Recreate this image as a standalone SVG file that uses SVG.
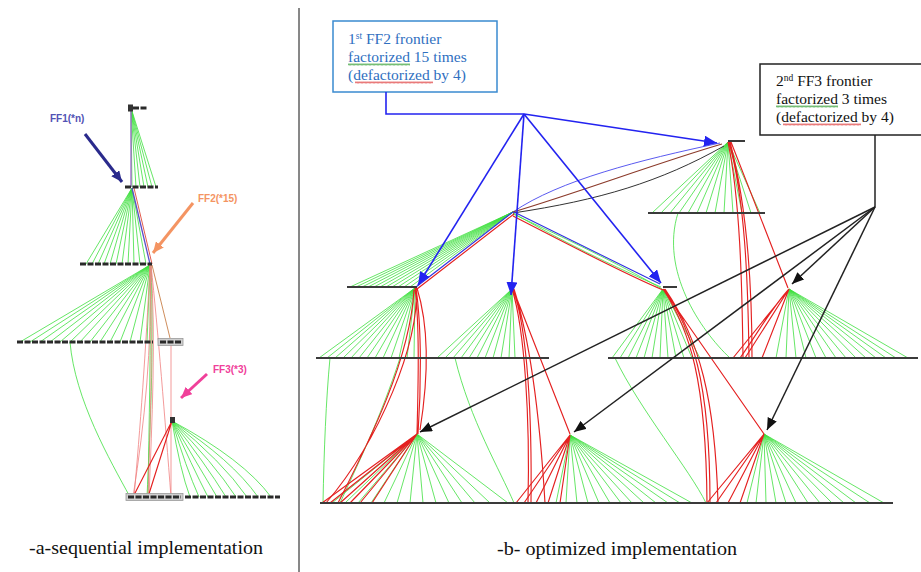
<svg xmlns="http://www.w3.org/2000/svg" width="921" height="572" viewBox="0 0 921 572">
  <style>
    .g { fill: none; stroke: #3fe03f; stroke-width: 0.8; }
    .r { fill: none; stroke: #e42020; stroke-width: 1.15; }
    .rp { fill: none; stroke: #f08080; stroke-width: 0.8; }
    .bar { fill: none; stroke: #3a3a3a; stroke-width: 2; }
    .chain { fill: none; stroke: #2a2a2a; stroke-width: 3; stroke-dasharray: 6 1.5; }
    .gbox { fill: #cfcfcf; stroke: #9a9a9a; stroke-width: 0.8; }
    .blue { fill: none; stroke: #2323f0; stroke-width: 1.6; }
    .blk { fill: none; stroke: #222; stroke-width: 1.5; }
    .lbl { font-family: "Liberation Sans", Arial, sans-serif; font-weight: bold; font-size: 10px; }
    .note { font-family: "Liberation Serif", "Times New Roman", serif; font-size: 15.5px; }
  </style>
  <defs>
    <marker id="ahBlue" markerUnits="userSpaceOnUse" markerWidth="13" markerHeight="11" refX="13" refY="5.5" orient="auto">
      <path d="M0,0 L13,5.5 L0,11 z" fill="#2323f0"/>
    </marker>
    <marker id="ahBlack" markerUnits="userSpaceOnUse" markerWidth="12" markerHeight="10" refX="12" refY="5" orient="auto">
      <path d="M0,0 L12,5 L0,10 z" fill="#111"/>
    </marker>
    <marker id="ahNavy" markerUnits="userSpaceOnUse" markerWidth="11" markerHeight="10" refX="11" refY="5" orient="auto">
      <path d="M0,0 L11,5 L0,10 z" fill="#2a2a8c"/>
    </marker>
    <marker id="ahOrange" markerUnits="userSpaceOnUse" markerWidth="11" markerHeight="10" refX="11" refY="5" orient="auto">
      <path d="M0,0 L11,5 L0,10 z" fill="#f49462"/>
    </marker>
    <marker id="ahPink" markerUnits="userSpaceOnUse" markerWidth="11" markerHeight="10" refX="11" refY="5" orient="auto">
      <path d="M0,0 L11,5 L0,10 z" fill="#f0409a"/>
    </marker>
    <pattern id="waveGreen" width="4" height="3" patternUnits="userSpaceOnUse">
      <polyline points="0,2.5 1,0.5 2,2.5 3,0.5 4,2.5" fill="none" stroke="#3aa03a" stroke-width="0.7"/>
    </pattern>
    <pattern id="waveRed" width="4" height="3" patternUnits="userSpaceOnUse">
      <polyline points="0,2.5 1,0.5 2,2.5 3,0.5 4,2.5" fill="none" stroke="#e04040" stroke-width="0.7"/>
    </pattern>
  </defs>

  <rect width="921" height="572" fill="#fff"/>

  <!-- panel separator -->
  <line x1="299" y1="8" x2="299" y2="572" stroke="#111" stroke-width="1"/>

  <!-- ========== (a) sequential implementation ========== -->
  <g id="seq-tree">
    <!-- green fans -->
    <path class="g" d="M131 108L132 187M131 108L136 187M131 108L140 187M131 108L144 187M131 108L148 187M131 108L152 187M131 108L156 187"/>
    <path class="g" d="M132 188L86 264M132 188L92 264M132 188L98 264M132 188L104 264M132 188L110 264M132 188L116 264M132 188L122 264M132 188L128 264M132 188L134 264M132 188L140 264M132 188L146 264"/>
    <path class="g" d="M150 265L20 342M150 265L30 342M150 265L40 342M150 265L50 342M150 265L60 342M150 265L70 342M150 265L80 342M150 265L90 342M150 265L100 342M150 265L110 342M150 265L120 342M150 265L130 342M150 265L140 342M150 265L147 342"/>
    <path class="g" d="M172 421Q180 470 190 497M172 421Q186 468 199 497M172 421Q192 466 208 497M172 421Q198 465 217 497M172 421Q205 463 226 497M172 421Q213 462 236 497M172 421Q222 461 247 497M172 421Q232 460 258 497M172 421Q244 460 271 497"/>
    <path class="g" d="M70 342C75 400 110 460 130 497M150 265C151 350 149 420 148 497M151 265C154 360 150 430 147 497"/>
    <!-- frontier path -->
    <path d="M131 108L131 187" stroke="#9a62c8" stroke-width="1.3" fill="none"/>
    <path d="M132 188L150 264" stroke="#5a4ec8" stroke-width="1.3" fill="none"/>
    <path d="M134 188L152 264" stroke="#e04a3a" stroke-width="0.9" fill="none"/>
    <!-- red edges -->
    <path class="rp" d="M150 265C152 350 145 420 133 497M150 265C153 350 150 430 148 497M151 265C156 340 152 420 149 497"/>
    <path class="rp" d="M151 265C158 330 165 420 171 497M150 265C146 350 140 430 134 497"/>
    <path d="M152 265L170 338" stroke="#c8804a" stroke-width="0.9" fill="none"/>
    <path class="rp" d="M171 342L171 497"/>
    <path class="r" d="M172 421L133 497M172 421L148 497" stroke-width="0.9"/>
    <!-- levels -->
    <rect x="128" y="104.5" width="5" height="7" fill="#333"/>
    <path class="chain" d="M133 108H148"/>
    <path class="chain" d="M125 187H158"/>
    <path class="chain" d="M80 264H152"/>
    <path class="chain" d="M17 342H153"/>
    <rect class="gbox" x="158" y="338.5" width="25" height="7"/>
    <path class="chain" d="M160 342H181"/>
    <rect x="170" y="417" width="5" height="6" fill="#333"/>
    <rect class="gbox" x="126" y="493.5" width="57" height="7"/>
    <path class="chain" d="M128 497H181"/>
    <path class="chain" d="M185 497H280"/>
  </g>

  <g id="label-ff1">
    <text class="lbl" x="50" y="122" fill="#5252b4">FF1(*n)</text>
    <line x1="85" y1="134" x2="122" y2="182" stroke="#2a2a8c" stroke-width="3" marker-end="url(#ahNavy)"/>
  </g>
  <g id="label-ff2">
    <text class="lbl" x="198" y="202" fill="#f49462">FF2(*15)</text>
    <line x1="193" y1="203" x2="153" y2="253" stroke="#f49462" stroke-width="3" marker-end="url(#ahOrange)"/>
  </g>
  <g id="label-ff3">
    <text class="lbl" x="213" y="373" fill="#f0409a">FF3(*3)</text>
    <line x1="207" y1="374" x2="181" y2="398" stroke="#f0409a" stroke-width="3" marker-end="url(#ahPink)"/>
  </g>

  <!-- ========== (b) optimized implementation ========== -->
  <g id="opt-tree">
    <!-- green fans -->
    <path class="g" d="M728 142L652 213M728 142L661 213M728 142L670 213M728 142L679 213M728 142L688 213M728 142L697 213M728 142L706 213M728 142L715 213M728 142L724 213M728 142L733 213M728 142L742 213M728 142L751 213M728 142L760 213"/>
    <path class="g" d="M513 212L350 287M513 212L356 287M513 212L362 287M513 212L368 287M513 212L374 287M513 212L380 287M513 212L386 287M513 212L392 287M513 212L398 287M513 212L404 287M513 212L410 287"/>
    <path class="g" d="M415 288L319 358M415 288L327 358M415 288L335 358M415 288L343 358M415 288L351 358M415 288L359 358M415 288L367 358M415 288L375 358M415 288L383 358M415 288L391 358M415 288L399 358M415 288L407 358M415 288L414 358"/>
    <path class="g" d="M512 289L437 358M512 289L445 358M512 289L453 358M512 289L461 358M512 289L469 358M512 289L477 358M512 289L485 358M512 289L493 358M512 289L501 358M512 289L509 358M512 289L515 358"/>
    <path class="g" d="M663 289L612 358M663 289L620 358M663 289L628 358M663 289L636 358M663 289L644 358M663 289L652 358M663 289L660 358M663 289L668 358M663 289L676 358M663 289L684 358M663 289L692 358M663 289L700 358"/>
    <path class="g" d="M789 289L776 358M789 289L786 358M789 289L796 358M789 289L806 358M789 289L816 358M789 289L826 358M789 289L836 358M789 289L846 358M789 289L856 358M789 289L866 358M789 289L876 358M789 289L886 358M789 289L896 358M789 289L908 358"/>
    <path class="g" d="M417 434L332 503M417 434L345 503M417 434L358 503M417 434L371 503M417 434L384 503M417 434L397 503M417 434L410 503M417 434L423 503M417 434L436 503M417 434L449 503M417 434L462 503M417 434L475 503M417 434L490 503M417 434L508 503"/>
    <path class="g" d="M570 435L556 503M570 435L566 503M570 435L577 503M570 435L588 503M570 435L599 503M570 435L610 503M570 435L621 503M570 435L632 503M570 435L644 503M570 435L656 503M570 435L668 503M570 435L680 503M570 435L692 503"/>
    <path class="g" d="M764 434L747 503M764 434L756 503M764 434L766 503M764 434L776 503M764 434L786 503M764 434L796 503M764 434L808 503M764 434L820 503M764 434L832 503M764 434L844 503M764 434L856 503M764 434L870 503M764 434L884 503"/>
    <!-- long green edges -->
    <path class="g" d="M678 213C660 270 700 330 730 358M330 358C326 400 324 450 323 503M455 358C470 420 500 470 514 503M615 358C640 410 690 470 706 503M400 358C380 420 355 470 340 503M513 214C580 245 630 270 662 289M513 213C560 240 610 265 661 287"/>

    <!-- edges between the upper frontiers -->
    <path d="M513 212C560 180 640 160 720 143" stroke="#5a5af0" stroke-width="1" fill="none"/>
    <path d="M513 212C580 192 660 162 722 144" stroke="#8b3a2a" stroke-width="1.2" fill="none"/>
    <path d="M513 213C600 200 660 182 724 146" stroke="#333" stroke-width="1" fill="none"/>
    <path d="M513 212L416 287" stroke="#3030e0" stroke-width="1.2" fill="none"/>
    <path class="r" d="M514 214L417 289M513 216C560 240 620 272 663 290"/>
    <path d="M514 212L660 284" stroke="#3030e0" stroke-width="1.1" fill="none"/>

    <!-- red edges -->
    <path class="r" d="M728 142C740 200 742 280 743 358M729 142C745 200 748 280 749 358M730 142C748 210 752 290 752 358M731 142L788 288"/>
    <path class="r" d="M789 289L733 358M789 289L745 358M789 289L762 358M789 289C770 310 760 330 740 358"/>
    <path class="r" d="M415 288C420 330 418 390 417 434M416 288C422 330 421 390 418 434M417 288C430 330 428 380 420 430M416 290C420 340 380 440 326 503M414 290C410 360 370 440 338 503"/>
    <path class="r" d="M417 434L322 503M417 434L330 503M417 434L340 503M417 434L350 503M417 434L360 503M417 434L372 503"/>
    <path class="r" d="M512 289C525 330 530 420 528 503M513 289C528 330 532 420 531 503M514 289C530 340 540 420 545 503M513 289L570 434"/>
    <path class="r" d="M570 435L516 503M570 435L524 503M570 435L536 503M570 435L548 503M570 435L560 503"/>
    <path class="r" d="M663 289C690 330 706 380 707 503M664 289C692 330 710 380 710 503M665 289C700 340 715 400 718 503M663 289L764 434"/>
    <path class="r" d="M764 434L707 503M764 434L716 503M764 434L728 503M764 434L740 503"/>

    <!-- frontier levels -->
    <path class="bar" d="M728 141H745M648 213H765M347 287H417M663 287H677M316 358H549M608 358H918M320 503H893"/>
  </g>

  <g id="note-ff2">
    <rect x="333" y="21" width="164" height="71" fill="#fff" stroke="#3a8ad0" stroke-width="1.5"/>
    <text class="note" fill="#2f6fbf">
      <tspan x="348" y="44">1<tspan font-size="9.5" dy="-5">st</tspan><tspan dy="5"> FF2 frontier</tspan></tspan>
      <tspan x="348" y="62">factorized 15 times</tspan>
      <tspan x="348" y="80">(defactorized by 4)</tspan>
    </text>
    <rect x="348" y="63" width="62" height="3" fill="url(#waveGreen)"/>
    <rect x="355" y="81" width="78" height="3" fill="url(#waveRed)"/>
  </g>

  <g id="note-ff3">
    <rect x="760" y="64" width="170" height="71" fill="#fff" stroke="#222" stroke-width="1.5"/>
    <text class="note" fill="#111">
      <tspan x="776" y="86">2<tspan font-size="9.5" dy="-5">nd</tspan><tspan dy="5"> FF3 frontier</tspan></tspan>
      <tspan x="776" y="104">factorized 3 times</tspan>
      <tspan x="776" y="122">(defactorized by 4)</tspan>
    </text>
    <rect x="776" y="105" width="62" height="3" fill="url(#waveGreen)"/>
    <rect x="783" y="123" width="78" height="3" fill="url(#waveRed)"/>
  </g>

  <!-- pointer connectors -->
  <g id="connectors">
    <path class="blue" d="M386 92V114H524"/>
    <line class="blue" x1="524" y1="114" x2="717" y2="143" marker-end="url(#ahBlue)"/>
    <line class="blue" x1="524" y1="114" x2="418" y2="285" marker-end="url(#ahBlue)"/>
    <line class="blue" x1="524" y1="114" x2="511" y2="295" marker-end="url(#ahBlue)"/>
    <line class="blue" x1="524" y1="114" x2="661" y2="283" marker-end="url(#ahBlue)"/>
    <path class="blk" d="M875 135V207"/>
    <line class="blk" x1="875" y1="207" x2="420" y2="432" marker-end="url(#ahBlack)"/>
    <line class="blk" x1="875" y1="207" x2="574" y2="432" marker-end="url(#ahBlack)"/>
    <line class="blk" x1="875" y1="207" x2="767" y2="430" marker-end="url(#ahBlack)"/>
    <line class="blk" x1="875" y1="207" x2="792" y2="284" marker-end="url(#ahBlack)"/>
  </g>

  <!-- captions -->
  <text x="29" y="554" font-family="'Liberation Serif', 'Times New Roman', serif" font-size="19" fill="#111" textLength="234" lengthAdjust="spacingAndGlyphs">-a-sequential implementation</text>
  <text x="497" y="555" font-family="'Liberation Serif', 'Times New Roman', serif" font-size="19" fill="#111" textLength="240" lengthAdjust="spacingAndGlyphs">-b- optimized implementation</text>
</svg>
